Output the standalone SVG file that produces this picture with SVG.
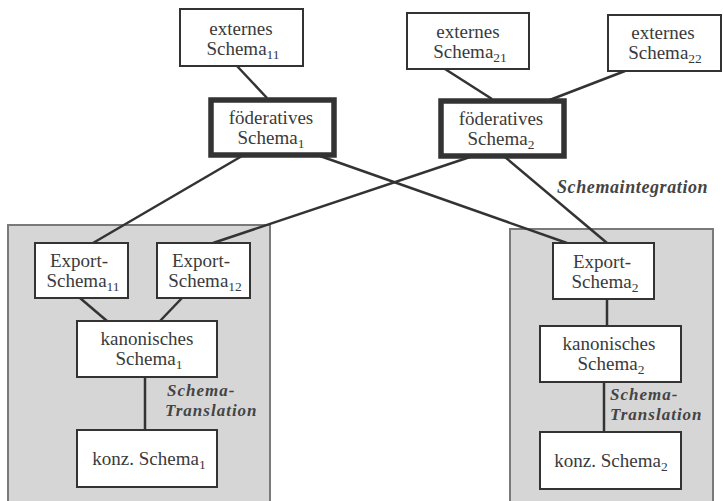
<svg xmlns="http://www.w3.org/2000/svg" width="724" height="501" viewBox="0 0 724 501">
<style>
.panel{fill:#d6d6d6;stroke:#7a7a7a;stroke-width:2}
.box{fill:#fff;stroke:#333;stroke-width:2}
.fbox{fill:#fff;stroke:#333;stroke-width:5.5}
.t{font-family:"Liberation Serif","Times New Roman",serif;font-size:19px;fill:#3a3a3a;text-anchor:middle}
.sub{font-size:13.5px}
.lbl{font-family:"Liberation Serif","Times New Roman",serif;font-size:17px;font-weight:bold;font-style:italic;fill:#444;letter-spacing:1px}
.c{stroke:#333;stroke-width:2.5;fill:none}
</style>
<rect width="724" height="501" fill="#fff"/>
<g id="panel1"><rect class="panel" x="8" y="225" width="262" height="290"/></g>
<g id="panel2"><rect class="panel" x="510" y="229" width="203" height="290"/></g>
<g id="connectors">
<line class="c" x1="237" y1="66" x2="267" y2="98"/>
<line class="c" x1="445" y1="69" x2="492" y2="99"/>
<line class="c" x1="625" y1="71" x2="547" y2="101"/>
<line class="c" x1="242" y1="156" x2="93" y2="243"/>
<line class="c" x1="320" y1="156" x2="567" y2="243"/>
<line class="c" x1="470" y1="157" x2="213" y2="243"/>
<line class="c" x1="505" y1="157" x2="607" y2="243"/>
<line class="c" x1="80" y1="298" x2="107" y2="321"/>
<line class="c" x1="182" y1="298" x2="160" y2="321"/>
<line class="c" x1="145" y1="377" x2="145" y2="430"/>
<line class="c" x1="607" y1="299" x2="607" y2="326"/>
<line class="c" x1="604" y1="382" x2="604" y2="432"/>
</g>
<g id="ext11"><rect class="box" x="180" y="9" width="123" height="57"/>
<text class="t" x="241" y="35">externes</text><text class="t" x="243" y="55">Schema<tspan class="sub" dy="4">11</tspan></text></g>
<g id="ext21"><rect class="box" x="407" y="13" width="122" height="56"/>
<text class="t" x="468" y="38">externes</text><text class="t" x="470" y="58">Schema<tspan class="sub" dy="4">21</tspan></text></g>
<g id="ext22"><rect class="box" x="608" y="15" width="113" height="56"/>
<text class="t" x="663" y="39">externes</text><text class="t" x="665" y="59">Schema<tspan class="sub" dy="4">22</tspan></text></g>
<g id="foed1"><rect class="fbox" x="211" y="100" width="123" height="55"/>
<text class="t" x="271" y="124">föderatives</text><text class="t" x="271" y="144">Schema<tspan class="sub" dy="4">1</tspan></text></g>
<g id="foed2"><rect class="fbox" x="441" y="101" width="123" height="55"/>
<text class="t" x="501" y="125">föderatives</text><text class="t" x="501" y="145">Schema<tspan class="sub" dy="4">2</tspan></text></g>
<g id="exp11"><rect class="box" x="35" y="243" width="93" height="55"/>
<text class="t" x="79" y="267">Export-</text><text class="t" x="83" y="287">Schema<tspan class="sub" dy="4">11</tspan></text></g>
<g id="exp12"><rect class="box" x="157" y="243" width="93" height="55"/>
<text class="t" x="201" y="267">Export-</text><text class="t" x="205" y="287">Schema<tspan class="sub" dy="4">12</tspan></text></g>
<g id="kan1"><rect class="box" x="77" y="321" width="140" height="56"/>
<text class="t" x="147" y="345">kanonisches</text><text class="t" x="149" y="365">Schema<tspan class="sub" dy="4">1</tspan></text></g>
<g id="konz1"><rect class="box" x="77" y="430" width="140" height="57"/>
<text class="t" x="149" y="465">konz. Schema<tspan class="sub" dy="4">1</tspan></text></g>
<g id="exp2"><rect class="box" x="553" y="243" width="101" height="56"/>
<text class="t" x="602" y="268">Export-</text><text class="t" x="605" y="288">Schema<tspan class="sub" dy="4">2</tspan></text></g>
<g id="kan2"><rect class="box" x="540" y="326" width="141" height="56"/>
<text class="t" x="609" y="350">kanonisches</text><text class="t" x="611" y="370">Schema<tspan class="sub" dy="4">2</tspan></text></g>
<g id="konz2"><rect class="box" x="540" y="432" width="141" height="57"/>
<text class="t" x="611" y="467">konz. Schema<tspan class="sub" dy="4">2</tspan></text></g>
<g id="labels">
<text class="lbl" x="557" y="193" style="letter-spacing:0.6px;font-size:18px">Schemaintegration</text>
<text class="lbl" x="167" y="396">Schema-</text>
<text class="lbl" x="165" y="416">Translation</text>
<text class="lbl" x="610" y="400">Schema-</text>
<text class="lbl" x="610" y="420">Translation</text>
</g>
</svg>
